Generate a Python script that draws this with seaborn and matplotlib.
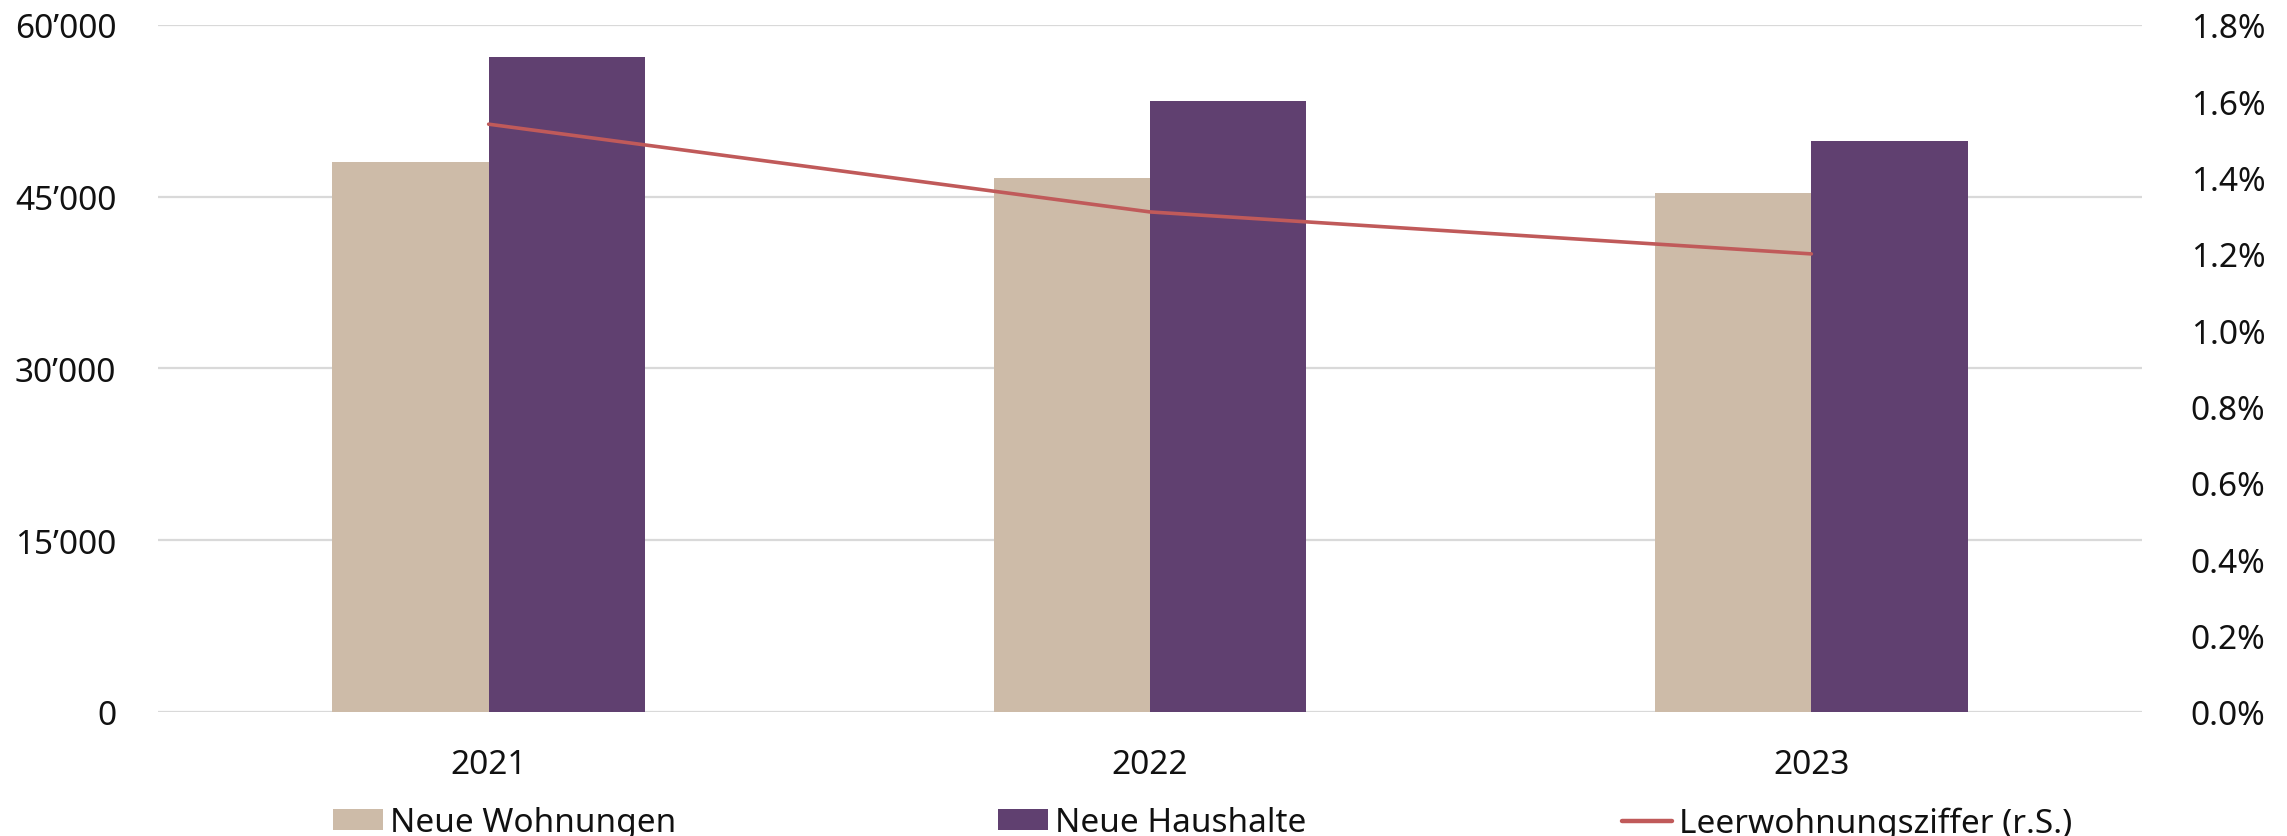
import numpy as np
import pandas as pd
import matplotlib
matplotlib.use("Agg")
import matplotlib.pyplot as plt
import seaborn as sns
from matplotlib.patches import Patch
from matplotlib.lines import Line2D
from matplotlib.ticker import FuncFormatter, FixedLocator

# ---- data ----
years = ["2021", "2022", "2023"]
neue_wohnungen = [48000, 46600, 45300]
neue_haushalte = [57200, 53400, 49900]
leerwohnungsziffer = [1.54, 1.31, 1.20]  # percent, right axis
series_names = ["Neue Wohnungen", "Neue Haushalte"]
line_name = "Leerwohnungsziffer (r.S.)"
left_ticks = [0, 15000, 30000, 45000, 60000]
right_ticks = [0.0, 0.2, 0.4, 0.6, 0.8, 1.0, 1.2, 1.4, 1.6, 1.8]

# ---- style ----
c_beige = "#CDBBA8"
c_purple = "#604070"
c_line = "#C05A5A"
c_grid = "#D9D9D9"

sns.set_theme(style="white")
plt.rcParams["font.family"] = ["Noto Sans", "DejaVu Sans"]
FS = 24

df = pd.DataFrame({
    "Jahr": years * 2,
    "Wert": neue_wohnungen + neue_haushalte,
    "Serie": [series_names[0]] * len(years) + [series_names[1]] * len(years),
})

W, H = 2287, 837
fig = plt.figure(figsize=(W / 100, H / 100), dpi=100)
ax = fig.add_axes([158 / W, 1 - 712.7 / H, (2142 - 158) / W, (712.7 - 26) / H])

sns.barplot(data=df, x="Jahr", y="Wert", hue="Serie", order=years,
            hue_order=series_names, palette=[c_beige, c_purple],
            width=0.473, gap=0, saturation=1, ax=ax, legend=False,
            edgecolor="none", linewidth=0)

ax.set_xlim(-0.5, len(years) - 0.5)
ax.set_ylim(0, 60000)
ax.yaxis.set_major_locator(FixedLocator(left_ticks))
ax.yaxis.set_major_formatter(FuncFormatter(
    lambda v, p: f"{int(v):,}".replace(",", "\u2019")))
ax.set_axisbelow(True)
ax.grid(axis="y", color=c_grid, linewidth=1.6)
ax.grid(axis="x", visible=False)
for s in ax.spines.values():
    s.set_visible(False)
ax.set_xlabel("")
ax.set_ylabel("")
ax.tick_params(axis="y", length=0, pad=30, labelsize=FS, labelcolor="#111111")
ax.tick_params(axis="x", length=0, pad=26, labelsize=FS, labelcolor="#111111")

ax2 = ax.twinx()
sns.lineplot(x=np.arange(len(years)), y=leerwohnungsziffer, ax=ax2,
             color=c_line, linewidth=2.6, legend=False)
ax2.set_ylim(0, 1.8)
ax2.yaxis.set_major_locator(FixedLocator(right_ticks))
ax2.yaxis.set_major_formatter(FuncFormatter(lambda v, p: f"{v:.1f}%"))
ax2.tick_params(axis="y", length=0, pad=35, labelsize=FS, labelcolor="#111111")
ax2.grid(False)
for s in ax2.spines.values():
    s.set_visible(False)
ax2.set_ylabel("")

# ---- legend: three entries at fixed positions ----
handles = [
    Patch(facecolor=c_beige, edgecolor="none", label=series_names[0]),
    Patch(facecolor=c_purple, edgecolor="none", label=series_names[1]),
    Line2D([0], [0], color=c_line, linewidth=3.2, label=line_name),
]
x_starts = [333, 998, 1622]
y_center = 1 - 824 / H
for h, xs in zip(handles, x_starts):
    fig.legend(handles=[h], loc="center left",
               bbox_to_anchor=(xs / W, y_center), frameon=False,
               fontsize=FS, handlelength=1.5, handleheight=0.6,
               handletextpad=0.2, borderpad=0, borderaxespad=0,
               labelcolor="#111111")

fig.savefig("out.png", dpi=100)
